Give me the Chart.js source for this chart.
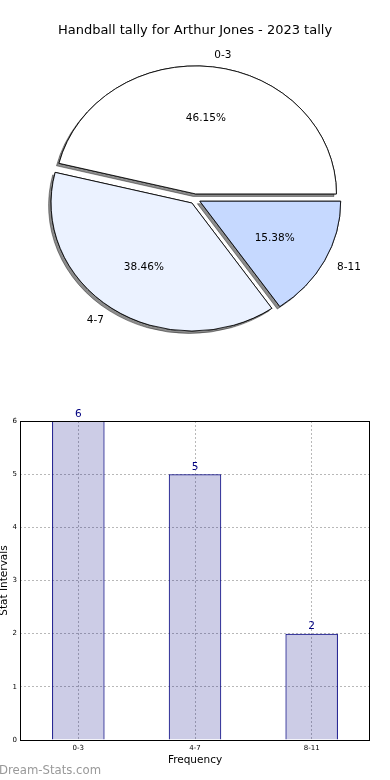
<!DOCTYPE html>
<html>
<head>
<meta charset="utf-8">
<script src="https://cdn.jsdelivr.net/npm/chart.js@4.4.1/dist/chart.umd.min.js"></script>
<style>
  html, body { margin: 0; padding: 0; background: #ffffff; }
  #wrap { position: relative; width: 390px; height: 780px; overflow: hidden; font-family: "DejaVu Sans", sans-serif; }
  #pie { position: absolute; left: 0; top: 0; }
  #bar { position: absolute; left: 0; top: 400px; }
  #wm { position: absolute; left: -1px; top: 762px; font-size: 11.7px; line-height: 16px; color: #999999; white-space: nowrap; }
</style>
</head>
<body>
<div id="wrap">
  <canvas id="pie" width="390" height="359"></canvas>
  <canvas id="bar" width="390" height="380"></canvas>
  <div id="wm">Dream-Stats.com</div>
</div>
<script>
// ---- data ----
const chartTitle = 'Handball tally for Arthur Jones - 2023 tally';
const categories = ['0-3', '4-7', '8-11'];
const counts = [6, 5, 2];
const yTicks = [0, 1, 2, 3, 4, 5, 6];
const xAxisTitle = 'Frequency';
const yAxisTitle = 'Stat Intervals';

// ---- styles ----
const pieColors = ['#ffffff', '#ebf2ff', '#c6d9ff'];
const FONT = '"DejaVu Sans", sans-serif';
const SX = 1.10;     // horizontal stretch of the pie (elliptical look)
const EXPL = 5;      // explode distance
const PIE_R = 128;

Chart.defaults.font.family = FONT;
Chart.defaults.color = '#000000';

// Pie: matplotlib draws counter-clockwise from 3 o'clock; Chart.js goes clockwise,
// so feed the slices in reverse order starting at 3 o'clock.
const pieLabels = categories.slice().reverse();
const pieValues = counts.slice().reverse();
const pieBg = pieColors.slice().reverse();
const total = counts.reduce((a, b) => a + b, 0);

const piePlugin = {
  id: 'explodedEllipse',
  beforeDatasetsDraw(chart) {
    const ctx = chart.ctx;
    const arcs = chart.getDatasetMeta(0).data;
    const drawAll = () => {
      arcs.forEach(arc => {
        const mid = (arc.startAngle + arc.endAngle) / 2;
        ctx.save();
        ctx.translate(arc.x + SX * EXPL * Math.cos(mid), arc.y + EXPL * Math.sin(mid));
        ctx.scale(SX, 1);
        ctx.translate(-arc.x, -arc.y);
        arc.draw(ctx);
        ctx.restore();
      });
    };
    ctx.save();
    ctx.shadowColor = 'rgba(0,0,0,0.45)';
    ctx.shadowOffsetX = -2.5;
    ctx.shadowOffsetY = 2.5;
    ctx.shadowBlur = 0;
    drawAll();
    ctx.restore();
    drawAll();
    return false;
  },
  afterDraw(chart) {
    const ctx = chart.ctx;
    const arcs = chart.getDatasetMeta(0).data;
    ctx.save();
    ctx.font = '10.5px ' + FONT;
    ctx.fillStyle = '#000000';
    ctx.textBaseline = 'middle';
    arcs.forEach((arc, i) => {
      const mid = (arc.startAngle + arc.endAngle) / 2;
      const c = Math.cos(mid), s = Math.sin(mid);
      const R = arc.outerRadius;
      const cx = arc.x + SX * EXPL * c, cy = arc.y + EXPL * s;
      ctx.textAlign = c > 0 ? 'left' : 'right';
      ctx.fillText(pieLabels[i], cx + SX * 1.1 * R * c, cy + 1.1 * R * s + 1);
      ctx.textAlign = 'center';
      const pct = (pieValues[i] / total * 100).toFixed(2) + '%';
      ctx.fillText(pct, cx + SX * 0.6 * R * c, cy + 0.6 * R * s + 1);
    });
    ctx.restore();
  }
};

new Chart(document.getElementById('pie'), {
  type: 'pie',
  data: {
    labels: pieLabels,
    datasets: [{
      data: pieValues,
      backgroundColor: pieBg,
      borderColor: '#000000',
      borderWidth: 0.8,
      radius: PIE_R
    }]
  },
  options: {
    responsive: false,
    devicePixelRatio: 1,
    animation: false,
    events: [],
    rotation: 90,
    layout: { padding: 0 },
    plugins: {
      legend: { display: false },
      tooltip: { enabled: false },
      title: {
        display: true,
        text: chartTitle,
        color: '#000000',
        font: { size: 13, weight: 'normal', lineHeight: 1.2 },
        padding: { top: 23.2, bottom: 0 }
      }
    }
  },
  plugins: [piePlugin]
});

// ---- bar chart ----
const barPlugin = {
  id: 'frameAndValues',
  afterDatasetsDraw(chart) {
    const ctx = chart.ctx;
    const meta = chart.getDatasetMeta(0);
    ctx.save();
    ctx.font = '10.5px ' + FONT;
    ctx.fillStyle = '#000080';
    ctx.textAlign = 'center';
    ctx.textBaseline = 'alphabetic';
    meta.data.forEach((bar, i) => {
      ctx.fillText(String(counts[i]), bar.x, bar.y - 4.5);
    });
    ctx.restore();
  },
  afterDraw(chart) {
    const a = chart.chartArea;
    const ctx = chart.ctx;
    ctx.save();
    ctx.strokeStyle = '#000000';
    ctx.lineWidth = 1;
    ctx.strokeRect(Math.round(a.left) + 0.5, Math.round(a.top) + 0.5,
                   Math.round(a.right - a.left) - 1, Math.round(a.bottom - a.top));
    ctx.restore();
  }
};

new Chart(document.getElementById('bar'), {
  type: 'bar',
  data: {
    labels: categories,
    datasets: [{
      data: counts,
      backgroundColor: 'rgba(0,0,128,0.2)',
      borderColor: '#000080',
      borderWidth: 1,
      barPercentage: 0.45,
      categoryPercentage: 1.0
    }]
  },
  options: {
    responsive: false,
    devicePixelRatio: 1,
    animation: false,
    events: [],
    layout: { padding: { left: 0, right: 20, top: 21, bottom: 0 } },
    plugins: {
      legend: { display: false },
      tooltip: { enabled: false },
      title: { display: false }
    },
    scales: {
      x: {
        type: 'category',
        offset: true,
        afterFit(scale) { scale.height = 40; },
        border: { display: false, dash: [2, 2] },
        grid: {
          offset: false,
          drawTicks: false,
          color: '#b8b8b8',
          lineWidth: 1
        },
        ticks: { font: { size: 7 }, padding: 4, color: '#000000', maxRotation: 0 },
        title: {
          display: true,
          text: xAxisTitle,
          font: { size: 10.5, lineHeight: 1.2 },
          padding: { top: 0, bottom: 13.4 },
          color: '#000000'
        }
      },
      y: {
        min: 0,
        max: 6,
        afterFit(scale) { scale.width = 20; },
        afterBuildTicks(scale) { scale.ticks = yTicks.map(v => ({ value: v })); },
        border: { display: false, dash: [2, 2] },
        grid: {
          drawTicks: false,
          color: '#b8b8b8',
          lineWidth: 1
        },
        ticks: { font: { size: 7 }, padding: 3, color: '#000000' },
        title: {
          display: true,
          text: yAxisTitle,
          font: { size: 10.5, lineHeight: 1 },
          padding: { top: -1.2, bottom: 0 },
          color: '#000000'
        }
      }
    }
  },
  plugins: [barPlugin]
});
</script>
</body>
</html>
